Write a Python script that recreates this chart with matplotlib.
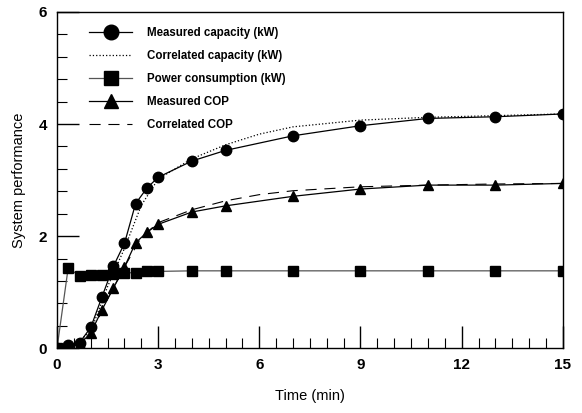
import matplotlib
matplotlib.use("Agg")
import matplotlib.pyplot as plt
from matplotlib.ticker import MultipleLocator

# measured points (min)
t_meas = [0, 0.33, 0.67, 1.0, 1.33, 1.67, 2.0, 2.33, 2.67, 3, 4, 5, 7, 9, 11, 13, 15]
cap_meas = [0, 0.06, 0.10, 0.37, 0.91, 1.46, 1.87, 2.58, 2.86, 3.05, 3.34, 3.53, 3.79, 3.97, 4.10, 4.13, 4.18]
power = [0, 1.43, 1.29, 1.30, 1.30, 1.32, 1.34, 1.35, 1.37, 1.37, 1.38, 1.38, 1.38, 1.38, 1.38, 1.38, 1.38]
cop_meas = [0, 0.03, 0.07, 0.27, 0.68, 1.07, 1.45, 1.88, 2.07, 2.21, 2.43, 2.54, 2.71, 2.84, 2.91, 2.91, 2.94]

# correlations
t_corr = [0, 0.5, 1.0, 1.5, 2.0, 2.5, 3, 4, 5, 6, 7, 9, 11, 13, 15]
cap_corr = [0, 0.05, 0.30, 1.10, 1.78, 2.55, 3.02, 3.38, 3.63, 3.82, 3.95, 4.07, 4.12, 4.15, 4.18]
cop_corr = [0, 0.04, 0.24, 0.88, 1.45, 1.98, 2.24, 2.47, 2.63, 2.74, 2.81, 2.88, 2.91, 2.93, 2.94]

plt.rcParams['font.family'] = ['Liberation Sans', 'DejaVu Sans']

fig = plt.figure(figsize=(5.82, 4.13), dpi=100)
ax = fig.add_axes([0.098, 0.157, 0.869, 0.814])

ms = 7.5
ax.plot(t_meas, cap_meas, '-', color='black', lw=0.9, marker='o', ms=ms,
        label='Measured capacity (kW)')
ax.plot(t_corr, cap_corr, ':', color='black', lw=0.9,
        label='Correlated capacity (kW)')
ax.plot(t_meas, power, '-', color='#555555', lw=0.9, marker='s', ms=ms - 0.5,
        mfc='black', mec='black', label='Power consumption (kW)')
ax.plot(t_meas, cop_meas, '-', color='black', lw=0.9, marker='^', ms=ms,
        label='Measured COP')
ax.plot(t_corr, cop_corr, '--', color='black', lw=0.8, dashes=(10, 7),
        label='Correlated COP')

ax.set_xlim(0, 15)
ax.set_ylim(0, 6)
ax.xaxis.set_major_locator(MultipleLocator(3))
ax.xaxis.set_minor_locator(MultipleLocator(0.5))
ax.yaxis.set_major_locator(MultipleLocator(2))
ax.yaxis.set_minor_locator(MultipleLocator(0.4))
ax.tick_params(which='major', direction='in', length=16, width=1.0,
               labelsize=11, pad=7)
ax.tick_params(which='minor', direction='in', length=7, width=0.8)
ax.tick_params(axis='both', which='both', top=False, right=False)
for lab in ax.get_xticklabels() + ax.get_yticklabels():
    lab.set_fontweight('bold')

for s in ax.spines.values():
    s.set_linewidth(1.0)

ax.set_xlabel('Time (min)', fontsize=10.5, labelpad=12)
ax.set_ylabel('System performance', fontsize=10.5, labelpad=9)

leg = ax.legend(loc='upper left', frameon=False,
                prop={'weight': 'bold', 'size': 8.3}, handlelength=3.7,
                markerscale=1.4, labelspacing=0.95, borderaxespad=0.0,
                handletextpad=1.3, bbox_to_anchor=(0.055, 0.968))

fig.savefig('out.png', dpi=100)
